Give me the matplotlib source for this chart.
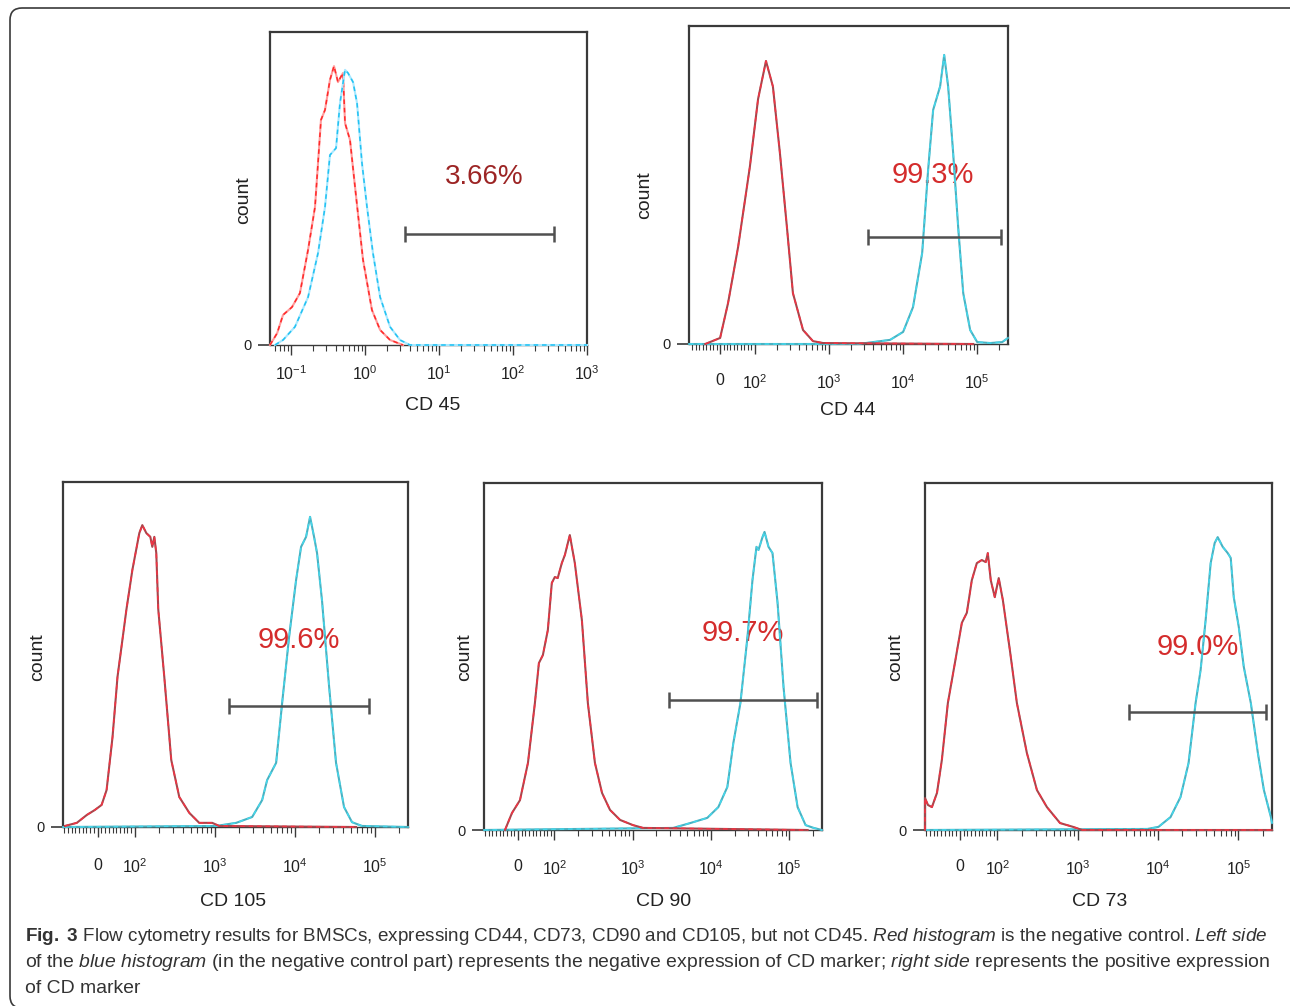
"""
Flow cytometry histograms (Fig. 3): BMSC surface markers CD45, CD44, CD105, CD90, CD73.
"""
import matplotlib

matplotlib.use("Agg", force=True)
import matplotlib.pyplot as plt
from matplotlib.patches import FancyBboxPatch
from matplotlib.transforms import IdentityTransform
from matplotlib.ticker import FixedLocator, FixedFormatter, NullFormatter, LogLocator

FIG_W, FIG_H = 1290, 1006
DPI = 100

# ---------------------------------------------------------------- data
# x = fluorescence intensity, y = count as % of the axis height
CD45_NEG_X = [0.052, 0.065, 0.078, 0.103, 0.132, 0.170, 0.211, 0.254, 0.288, 0.336, 0.381,
              0.431, 0.504, 0.537, 0.627, 0.733, 0.940, 1.24, 1.60, 2.18, 3.26]
CD45_NEG_Y = [0, 3.8, 9.6, 12.1, 16.6, 30.4, 44.1, 71.9, 75.1, 84.7, 89.1,
              84.0, 86.9, 70.9, 65.5, 50.5, 27.2, 11.2, 4.8, 1.6, 0]
CD45_POS_X = [0.0608, 0.078, 0.113, 0.170, 0.232, 0.288, 0.336, 0.406, 0.459, 0.537, 0.589,
              0.689, 0.780, 0.910, 1.064, 1.28, 1.60, 2.18, 2.97, 4.05, 1000]
CD45_POS_Y = [0, 1.6, 5.8, 15.3, 29.4, 44.1, 60.7, 62.9, 77.3, 87.9, 86.9,
              84.0, 77.3, 58.1, 44.1, 29.4, 15.3, 5.8, 1.6, 0, 0]

CD44_NEG_X = [-43, 0, 23, 52, 86, 111, 142, 176, 219, 272, 328, 449, 612, 836, 89000]
CD44_NEG_Y = [0, 1.9, 12.9, 30.5, 55.7, 77.0, 89.0, 81.0, 60.0, 36.8, 16.0, 4.4, 0.9, 0.3, 0]
CD44_POS_X = [-90, 2500, 3960, 6720, 10070, 13700, 18200, 21900, 25600, 31800, 36100, 40800,
              47700, 55700, 65200, 80900, 100700, 151000, 219000, 262000]
CD44_POS_Y = [0, 0, 0.6, 1.3, 3.8, 11.6, 28.6, 54.7, 73.6, 81.0, 90.9, 81.0,
              60.0, 36.8, 16.0, 4.4, 0.6, 0.3, 0.6, 1.9]

CD105_NEG_X = [-88, -56, -29, -8, 10.6, 23.9, 39.9, 53.2, 77.1, 93.1, 113.5, 123.7, 138.8,
               155.8, 165, 174.8, 185, 196, 233, 285, 359, 479, 638, 928, 1135, 58550]
CD105_NEG_Y = [0.3, 1.2, 3.5, 4.9, 6.4, 10.7, 26.1, 43.5, 63.0, 74.5, 85.2, 87.5, 85.2,
               84.1, 81.2, 84.1, 79.4, 63.0, 43.5, 19.4, 8.7, 4.1, 1.2, 1.2, 0.3, 0]
CD105_POS_X = [-93, 1041, 1851, 2935, 3913, 4519, 5855, 6960, 8511, 10410, 12020, 13880,
               15580, 17480, 19050, 22000, 26920, 32930, 41450, 52180, 69600, 262000]
CD105_POS_Y = [0, 0.3, 1.2, 2.9, 7.8, 13.6, 18.6, 35.9, 55.1, 71.6, 81.2, 84.1,
               89.9, 84.1, 79.4, 65.5, 40.9, 18.6, 5.8, 1.4, 0.3, 0]

CD90_NEG_X = [-35.5, -16.4, 5.5, 27.3, 46.4, 57.3, 68.2, 81.8, 92.7, 101, 110, 124, 136,
              157, 182, 224, 267, 329, 405, 512, 689, 1009, 1358, 171800]
CD90_NEG_Y = [0, 4.9, 8.6, 19.3, 36.6, 48.1, 50.4, 57.6, 71.2, 72.9, 72.6, 76.9, 79.3,
              85.0, 76.9, 60.5, 36.6, 19.3, 10.7, 5.8, 2.9, 1.4, 0.6, 0]
CD90_POS_X = [-93, 3289, 5433, 8974, 12410, 16180, 19320, 23770, 29240, 33880, 38110, 40460,
              45500, 48310, 54330, 61090, 70960, 84530, 104000, 127900, 161800, 205100, 262000]
CD90_POS_Y = [0, 0.6, 2.0, 3.5, 6.6, 12.4, 25.1, 36.6, 55.6, 72.0, 81.6, 80.7,
              84.4, 85.9, 81.6, 79.8, 65.4, 41.2, 19.3, 6.6, 1.4, 0.6, 0]

CD73_NEG_X = [-93, -93, -85, -74.5, -61, -48, -32, -13.3, 5.3, 18.6, 31.9, 45.2, 58.5, 69.1,
              74.5, 82.4, 93.1, 104, 117, 143, 175, 233, 311, 414, 603, 876, 1135, 262000]
CD73_NEG_Y = [0, 9.2, 7.2, 6.6, 10.7, 20.2, 36.6, 48.1, 59.7, 62.6, 72.0, 76.9, 77.8, 77.2,
              79.8, 72.0, 67.1, 72.6, 66.3, 51.9, 36.6, 22.2, 11.5, 6.6, 2.0, 0.9, 0, 0]
CD73_POS_X = [-93, 7371, 10120, 14290, 19050, 23990, 29350, 33880, 39130, 45190, 50700, 55270,
              63830, 73700, 80350, 87600, 101200, 116800, 142900, 174800, 207800, 254100, 262000]
CD73_POS_Y = [0, 0.3, 0.9, 3.7, 9.5, 19.3, 36.6, 46.1, 60.5, 76.9, 82.7, 84.4,
              81.6, 79.8, 78.4, 67.1, 58.5, 47.0, 36.6, 22.2, 11.5, 3.7, 2.0]

# gate bars (x start, x end, y) and the percentage inside the gate
CD45_GATE, CD45_PCT = (3.48, 358, 35.5), "3.66%"
CD44_GATE, CD44_PCT = (3390, 212000, 33.6), "99.3%"
CD105_GATE, CD105_PCT = (1514, 85100, 35.1), "99.6%"
CD90_GATE, CD90_PCT = (2924, 224000, 37.5), "99.7%"
CD73_GATE, CD73_PCT = (4390, 220000, 34.0), "99.0%"

LOG_TICKS = [0.1, 1, 10, 100, 1000]
LOG_LABELS = [r"$10^{-1}$", r"$10^{0}$", r"$10^{1}$", r"$10^{2}$", r"$10^{3}$"]
BIEX_TICKS = [0, 100, 1000, 10000, 100000]
BIEX_LABELS = ["0", r"$10^{2}$", r"$10^{3}$", r"$10^{4}$", r"$10^{5}$"]

CAPTION = [
    r"$\mathbf{Fig.\ 3}$ Flow cytometry results for BMSCs, expressing CD44, CD73, CD90 and CD105, "
    r"but not CD45. $\mathit{Red\ histogram}$ is the negative control. $\mathit{Left\ side}$",
    r"of the $\mathit{blue\ histogram}$ (in the negative control part) represents the negative "
    r"expression of CD marker; $\mathit{right\ side}$ represents the positive expression",
    "of CD marker",
]

# ---------------------------------------------------------------- style
plt.rcParams["font.family"] = ["Liberation Sans", "DejaVu Sans"]
plt.rcParams["mathtext.fontset"] = "custom"
plt.rcParams["mathtext.rm"] = "Liberation Sans"
plt.rcParams["mathtext.it"] = "Liberation Sans:italic"
plt.rcParams["mathtext.bf"] = "Liberation Sans:bold"

FRAME = "#3a3a3a"
BRIGHT = {"neg": ("#ff9c9c", "#ff2a2a"), "pos": ("#a8e8ff", "#22c2f2")}
MUTED = {"neg": ("#a8464c", "#f03444"), "pos": ("#48b2c2", "#46d6ea")}


def fx(px):
    return px / FIG_W


def fy(py):
    return 1 - py / FIG_H


def px_rect(left, top, right, bottom):
    return [fx(left), fy(bottom), (right - left) / FIG_W, (bottom - top) / FIG_H]


def draw_curve(ax, x, y, colors, z):
    base, dash = colors
    ax.plot(x, y, color=base, lw=1.5, zorder=z, clip_on=False, solid_joinstyle="round")
    ax.plot(x, y, color=dash, lw=1.1, ls=(0, (3, 2.5)), zorder=z + 0.1, clip_on=False)


def draw_gate(ax, gate, pct, pct_xy, pct_color, pct_size):
    x0, x1, y = gate
    ax.plot([x0, x1], [y, y], color="#505050", lw=1.8, zorder=5, solid_capstyle="butt")
    ax.plot([x0, x1], [y, y], ls="none", marker="|", ms=12, mew=1.8, color="#505050", zorder=5)
    ax.text(pct_xy[0], pct_xy[1], pct, ha="center", va="center", fontsize=pct_size,
            color=pct_color, zorder=2)


def style_axes(ax, xlim, label_pad):
    ax.set_xlim(*xlim)
    ax.set_ylim(0, 100)
    for side in ("top", "left", "right"):
        ax.spines[side].set_color(FRAME)
        ax.spines[side].set_linewidth(1.6)
    ax.spines["bottom"].set_color(FRAME)
    ax.spines["bottom"].set_linewidth(1.0)
    ax.yaxis.set_major_locator(FixedLocator([0]))
    ax.yaxis.set_major_formatter(FixedFormatter(["0"]))
    ax.tick_params(axis="y", length=9, width=1.2, color=FRAME, labelsize=10.5,
                   labelcolor="#222222", pad=4)
    ax.tick_params(axis="x", which="major", direction="out", length=7, width=1.0,
                   color=FRAME, labelsize=11.5, labelcolor="#222222", pad=label_pad)
    ax.tick_params(axis="x", which="minor", direction="out", length=4, width=0.8, color=FRAME)


fig = plt.figure(figsize=(FIG_W / DPI, FIG_H / DPI), dpi=DPI)
fig.patch.set_facecolor("white")

# ---------------------------------------------------------------- CD45 (log axis)
ax = fig.add_axes(px_rect(270, 32, 587, 345))
ax.set_xscale("log")
style_axes(ax, (0.052, 1000), 7)
ax.xaxis.set_major_locator(FixedLocator(LOG_TICKS))
ax.xaxis.set_major_formatter(FixedFormatter(LOG_LABELS))
ax.xaxis.set_minor_locator(LogLocator(base=10, subs=range(2, 10), numticks=20))
ax.xaxis.set_minor_formatter(NullFormatter())
draw_curve(ax, CD45_NEG_X, CD45_NEG_Y, BRIGHT["neg"], 3)
draw_curve(ax, CD45_POS_X, CD45_POS_Y, BRIGHT["pos"], 4)
draw_gate(ax, CD45_GATE, CD45_PCT, (40.5, 53.7), "#9c2424", 20)
fig.text(fx(433), fy(405), "CD 45", ha="center", va="center", fontsize=14, color="#222222")
fig.text(fx(244), fy(200), "count", ha="center", va="center", rotation=90, fontsize=14,
         color="#222222")

# ---------------------------------------------------------------- biexponential panels
PANELS = [
    # (box px, xlim, neg x/y, pos x/y, gate, pct, pct xy, xlabel, xlabel px, ylabel px, pad)
    ((689, 26, 1008, 344), (-90, 262144), CD44_NEG_X, CD44_NEG_Y, CD44_POS_X, CD44_POS_Y,
     CD44_GATE, CD44_PCT, (25600, 53.0), "CD 44", (848, 411), (645, 195), 14),
    ((63, 482, 408, 827), (-93, 262144), CD105_NEG_X, CD105_NEG_Y, CD105_POS_X, CD105_POS_Y,
     CD105_GATE, CD105_PCT, (11350, 54.2), "CD 105", (233, 901), (38, 657), 15),
    ((484, 483, 822, 830), (-93, 262144), CD90_NEG_X, CD90_NEG_Y, CD90_POS_X, CD90_POS_Y,
     CD90_GATE, CD90_PCT, (25230, 56.8), "CD 90", (664, 901), (465, 657), 14),
    ((925, 483, 1272, 830), (-93, 262144), CD73_NEG_X, CD73_NEG_Y, CD73_POS_X, CD73_POS_Y,
     CD73_GATE, CD73_PCT, (31090, 52.7), "CD 73", (1100, 901), (896, 657), 14),
]

for (box, xlim, nx, ny, px_, py_, gate, pct, pct_xy, xlabel, xl_pos, yl_pos, pad) in PANELS:
    ax = fig.add_axes(px_rect(*box))
    ax.set_xscale("symlog", base=10, linthresh=100, linscale=0.42)
    style_axes(ax, xlim, pad)
    ax.xaxis.set_major_locator(FixedLocator(BIEX_TICKS))
    ax.xaxis.set_major_formatter(FixedFormatter(BIEX_LABELS))
    minor = [v for v in range(-90, 100, 10) if v != 0 and v > xlim[0]]
    minor += [k * 10 ** d for d in (2, 3, 4, 5) for k in range(2, 10) if k * 10 ** d < xlim[1]]
    ax.xaxis.set_minor_locator(FixedLocator(minor))
    ax.xaxis.set_minor_formatter(NullFormatter())
    draw_curve(ax, px_, py_, MUTED["pos"], 3)
    draw_curve(ax, nx, ny, MUTED["neg"], 4)
    draw_gate(ax, gate, pct, pct_xy, "#d42c2c", 21)
    fig.text(fx(xl_pos[0]), fy(xl_pos[1]), xlabel, ha="center", va="center", fontsize=14,
             color="#222222")
    fig.text(fx(yl_pos[0]), fy(yl_pos[1]), "count", ha="center", va="center", rotation=90,
             fontsize=14, color="#222222")

# ---------------------------------------------------------------- caption + frame
caption_texts = []
for i, line in enumerate(CAPTION):
    t = fig.text(fx(25), fy(941 + 26 * i), line, ha="left", va="baseline", fontsize=12.5,
                 color="#333333")
    caption_texts.append(t)

# justify the two full lines to the caption width
fig.canvas.draw()
renderer = fig.canvas.get_renderer()
for t in caption_texts[:2]:
    for _ in range(2):
        width = t.get_window_extent(renderer=renderer).width
        t.set_fontsize(t.get_fontsize() * (1266 - 25) / width)
caption_texts[2].set_fontsize(caption_texts[1].get_fontsize())

border = FancyBboxPatch((10, -2), 1320, 1000, boxstyle="round,pad=0,rounding_size=12",
                        transform=IdentityTransform(), fill=False, ec="#3a3a3a", lw=1.2)
fig.add_artist(border)

fig.savefig("out.png", dpi=DPI, facecolor="white")
plt.close(fig)
